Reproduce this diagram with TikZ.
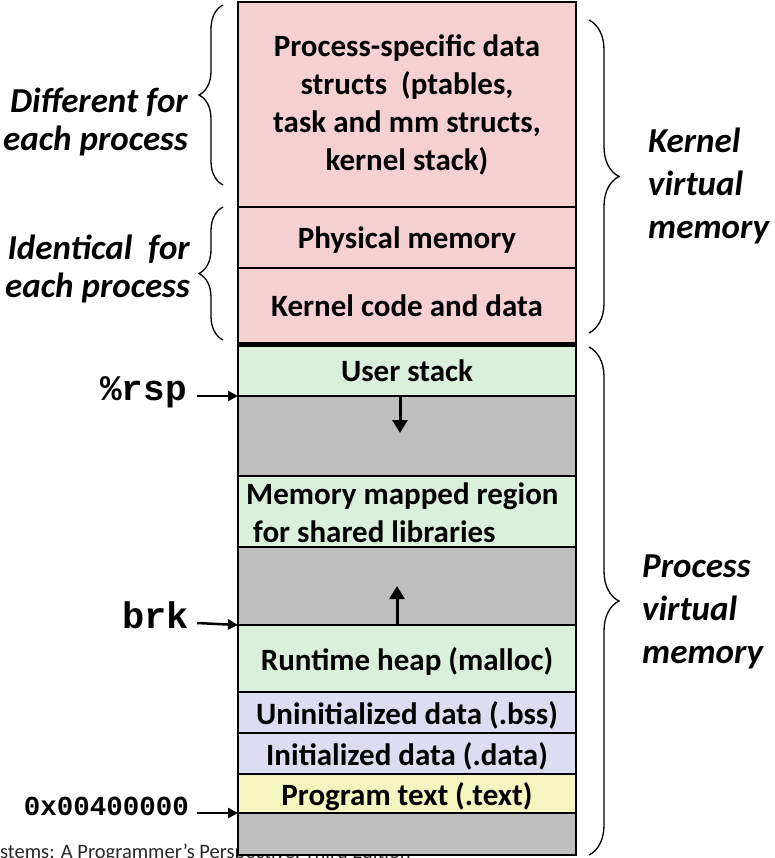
\documentclass[tikz,border=0pt]{standalone}
\usepackage{fontspec}
\setmainfont{Carlito}
\setmonofont{Liberation Mono}
\usetikzlibrary{arrows.meta,decorations.pathreplacing}
\definecolor{kpink}{RGB}{245,208,208}
\definecolor{ugreen}{RGB}{218,240,218}
\definecolor{ugray}{RGB}{191,191,191}
\definecolor{ulav}{RGB}{221,221,242}
\definecolor{uyel}{RGB}{245,245,192}
\tikzset{
  region/.style={draw=black, line width=2pt, minimum width=338pt, anchor=north west,
    inner sep=0pt, outer sep=0pt, align=center,
    font=\fontsize{31}{38}\selectfont\bfseries},
  oneline/.style={text depth=0pt},
  boxtxt/.style={font=\fontsize{31}{38}\selectfont\bfseries, inner sep=0pt, anchor=west},
  sidelbl/.style={font=\fontsize{35}{38}\selectfont\bfseries\itshape, inner sep=0pt},
  rightlbl/.style={font=\fontsize{35}{43}\selectfont\bfseries\itshape, inner sep=0pt, align=left, anchor=west},
  ptrlbl/.style={inner sep=0pt, anchor=east},
  ptr/.style={line width=2.5pt, -{Triangle[length=10pt,width=10pt]}},
  growarrow/.style={line width=3pt, -{Triangle[length=13pt,width=15pt]}},
  lbrace/.style={decorate, decoration={brace, amplitude=24pt, aspect=0.5}, line width=1.3pt},
  rbrace/.style={decorate, decoration={brace, amplitude=30pt, aspect=0.5}, line width=1.3pt},
}
\begin{document}
\begin{tikzpicture}[x=1pt,y=-1pt]
\useasboundingbox (0,0) rectangle (774,858);
% footer (partly hidden)
\node[anchor=base west, inner sep=0pt, font=\fontsize{20.5}{22}\selectfont, text=black!85] (foot) at (0,858) {stems: A Programmer’s Perspective, Third Edition};
% regions
\node[region, fill=kpink, minimum height=205pt] (p1) at (238,2) {Process-specific data\\structs\ \ (ptables,\\task and mm structs,\\kernel stack)};
\node[region, oneline, fill=kpink, minimum height=61pt] (p2) at (238,207) {Physical memory};
\node[region, oneline, fill=kpink, minimum height=76pt] (p3) at (238,268) {Kernel code and data};
\node[region, oneline, fill=ugreen, minimum height=50pt] (u1) at (238,346) {User stack};
\node[region, fill=ugray, minimum height=80pt] (g1) at (238,396) {};
\node[region, fill=ugreen, minimum height=71pt] (m1) at (238,476) {};
\node[region, fill=ugray, minimum height=78pt] (g2) at (238,547) {};
\node[region, oneline, fill=ugreen, minimum height=67pt] (h1) at (238,625) {Runtime heap (malloc)};
\node[region, oneline, fill=ulav, minimum height=41pt] (b1) at (238,692) {Uninitialized data (.bss)};
\node[region, oneline, fill=ulav, minimum height=41pt] (d1) at (238,733) {Initialized data (.data)};
\node[region, oneline, fill=uyel, minimum height=39pt] (t1) at (238,774) {Program text (.text)};
\node[region, fill=ugray, minimum height=42pt] (g3) at (238,813) {};
\node[boxtxt] (m1a) at (246,496) {Memory mapped region};
\node[boxtxt] (m1b) at (253,532) {for shared libraries};
% thick separator
\draw[line width=5pt] (p3.south west) -- (p3.south east);
% growth arrows
\coordinate (sd) at (400,433);
\coordinate (hu) at (397,586);
\draw[growarrow] (u1.south -| sd) -- (sd);
\draw[growarrow] (h1.north -| hu) -- (hu);
% pointer labels
\node[ptrlbl, font=\fontsize{36}{36}\selectfont\ttfamily\bfseries] (rsp) at (187,392) {\%rsp};
\node[ptrlbl, font=\fontsize{37}{37}\selectfont\ttfamily\bfseries] (brk) at (189,615) {brk};
\node[ptrlbl, font=\fontsize{27.5}{30}\selectfont\ttfamily\bfseries] (addr) at (189,806) {0x00400000};
\coordinate (rspa) at (197,396);
\coordinate (brka) at (197,623);
\coordinate (addra) at (197,813);
\draw[ptr] (rspa) -- (g1.north west);
\draw[ptr] (brka) -- (h1.north west);
\draw[ptr] (addra) -- (g3.north west);
% left braces
\coordinate (lb1s) at (223,185);
\coordinate (lb1e) at (223,5);
\coordinate (lb2s) at (223,340);
\coordinate (lb2e) at (223,207);
\draw[lbrace] (lb1s) -- (lb1e);
\draw[lbrace] (lb2s) -- (lb2e);
\node[sidelbl, align=right, anchor=east] (diff) at (188,122) {Different for\\each process};
\node[sidelbl, align=right, anchor=east] (ident) at (190,269) {Identical\ \ for\\each process};
% right braces
\coordinate (rb1s) at (589,20);
\coordinate (rb1e) at (589,333);
\coordinate (rb2s) at (589,347);
\coordinate (rb2e) at (589,855);
\draw[rbrace] (rb1s) -- (rb1e);
\draw[rbrace] (rb2s) -- (rb2e);
\node[rightlbl] (kvm) at (648,186) {Kernel\\virtual\\memory};
\node[rightlbl] (pvm) at (642,612) {Process\\virtual\\memory};
\end{tikzpicture}
\end{document}
